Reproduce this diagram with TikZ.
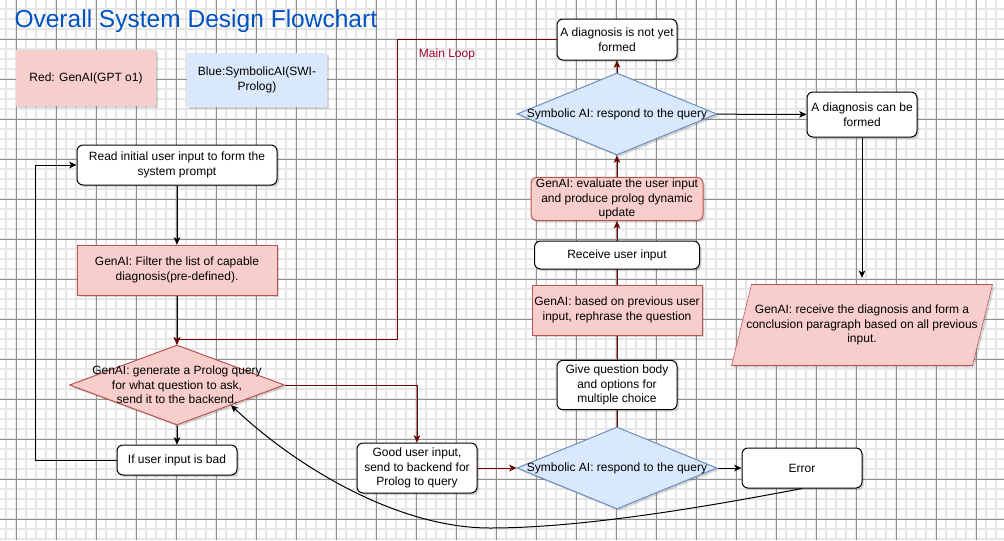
\documentclass[tikz,border=0pt]{standalone}
\usepackage{fontspec}
\setmainfont{Liberation Sans}
\usetikzlibrary{arrows.meta,shapes.geometric,shadows,backgrounds}
\definecolor{redfill}{HTML}{F8CECC}
\definecolor{redline}{HTML}{B85450}
\definecolor{bluefill}{HTML}{DAE8FC}
\definecolor{blueline}{HTML}{6C8EBF}
\definecolor{loopred}{HTML}{6F0000}
\definecolor{looptext}{HTML}{A20025}
\definecolor{titleblue}{HTML}{0052C2}
\definecolor{gridminor}{HTML}{E6E6E6}
\definecolor{gridmajor}{HTML}{909090}

\begin{document}
\begin{tikzpicture}[x=0.75pt,y=-0.75pt,line width=0.75pt,
  font=\fontsize{9}{11}\selectfont,
  boxshadow/.style={drop shadow={shadow xshift=1.5pt,shadow yshift=-1.5pt,opacity=0.22,fill=black!70}},
  whitebox/.style={draw=black,fill=white,rounded corners=4.5pt,align=center,inner sep=1pt,boxshadow},
  genbox/.style={draw=redline,fill=redfill,align=center,inner sep=1pt,boxshadow},
  legend/.style={fill=#1,align=center,inner sep=1pt,minimum width=105pt,boxshadow},
  symdia/.style={diamond,draw=blueline,fill=bluefill,inner sep=0pt,minimum width=150pt,minimum height=61.5pt,boxshadow},
  arr/.style={-{Stealth[length=5.5pt,width=5pt,inset=1.5pt]}},
  looparr/.style={arr,draw=loopred},
  loopline/.style={draw=loopred}]
\useasboundingbox (0,0) rectangle (1004,540);

\begin{scope}[on background layer]
\fill[white] (0,0) rectangle (1004,540);
\foreach \x in {6,16,...,1004} \draw[gridminor,line width=1.1pt] (\x,0)--(\x,540);
\foreach \y in {9,19,...,540} \draw[gridminor,line width=1.1pt] (0,\y)--(1004,\y);
\foreach \x in {16,56,...,1004} \draw[gridmajor] (\x,0)--(\x,540);
\foreach \y in {39,79,...,540} \draw[gridmajor] (0,\y)--(1004,\y);
\end{scope}

\node [anchor=west,inner sep=0pt,text=titleblue,font=\fontsize{18.4}{22}\selectfont] (title) at (14,21) {Overall System Design Flowchart};
\node [legend=redfill,minimum height=42pt] (keyred) at (86,78) {Red: GenAI(GPT o1)};
\node [legend=bluefill,minimum height=40.5pt] (keyblue) at (257,80) {Blue:SymbolicAI(SWI-\\Prolog)};
\node [text=looptext,inner sep=0pt] (looplabel) at (447,54) {Main Loop};

% left column
\node [whitebox,minimum width=150pt,minimum height=30pt] (read) at (177,165) {Read initial user input to form the\\system prompt};
\node [genbox,minimum width=150pt,minimum height=37.5pt] (filter) at (177,270) {GenAI: Filter the list of capable\\diagnosis(pre-defined).};
\node [diamond,draw=redline,fill=redfill,inner sep=0pt,minimum width=161.25pt,minimum height=60pt,boxshadow] (gen) at (177,385) {};
\node [align=center,inner sep=0pt] (gentext) at (gen) {GenAI: generate a Prolog query\\for what question to ask,\\send it to the backend.};
\node [whitebox,minimum width=90pt,minimum height=22.5pt] (bad) at (177,460) {If user input is bad};

% bottom row
\node [whitebox,minimum width=90pt,minimum height=37.5pt] (good) at (417,468) {Good user input,\\send to backend for\\Prolog to query};
\node [symdia] (sym2) at (617,468) {};
\node [inner sep=0pt] (sym2text) at (sym2) {Symbolic AI: respond to the query};
\node [whitebox,minimum width=90pt,minimum height=30pt] (err) at (802,468) {Error};

% middle column
\node [whitebox,minimum width=90pt,minimum height=37pt] (give) at (617,385) {Give question body\\and options for\\multiple choice};
\node [genbox,minimum width=127.5pt,minimum height=37.5pt] (rephrase) at (617,310) {GenAI: based on previous user\\input, rephrase the question};
\node [genbox,rounded corners=4.5pt,minimum width=129pt,minimum height=30pt] (evaluate) at (617,199) {GenAI: evaluate the user input\\and produce prolog dynamic\\update};
\draw [looparr] (rephrase)--(evaluate);
\node [whitebox,minimum width=123.75pt,minimum height=21pt] (receive) at (617,255) {Receive user input};
\node [symdia] (sym1) at (617,114) {};
\node [inner sep=0pt] (sym1text) at (sym1) {Symbolic AI: respond to the query};
\node [whitebox,minimum width=90pt,minimum height=30.75pt] (notyet) at (617,39.5) {A diagnosis is not yet\\formed};

% right column
\node [whitebox,minimum width=82.5pt,minimum height=33.75pt] (formed) at (862,114.5) {A diagnosis can be\\formed};
\node [align=center,inner sep=0pt,minimum width=180pt,minimum height=60pt] (concl) at (862,325) {GenAI: receive the diagnosis and form a\\conclusion paragraph based on all previous\\input.};
\begin{scope}[on background layer]
\draw [draw=redline,fill=redfill,boxshadow] ([xshift=7.5pt]concl.north west)--([xshift=7.5pt]concl.north east)--([xshift=-7.5pt]concl.south east)--([xshift=-7.5pt]concl.south west)--cycle;
\end{scope}

% connectors
\draw [arr] (read)--(filter);
\draw [arr] (filter)--(gen);
\draw [arr] (gen)--(bad);
\draw [arr] (bad.west)-|([xshift=-30.75pt]read.west)--(read.west);
\draw [looparr] (gen.east)-|(good.north);
\draw [looparr] (good)--(sym2);
\draw [arr] (sym2)--(err);
\draw [loopline] (sym2)--(give);
\draw [loopline] (give)--(rephrase);
\draw [looparr] (evaluate)--(sym1);
\draw [looparr] (sym1)--(notyet);
\draw [arr] (sym1)--(formed);
\draw [arr,shorten >=5pt] (formed)--(concl);
\draw [looparr] (notyet.west)-|(397,339)-|(gen.north);
\draw [arr] (err.south) .. controls (700,508) and (580,528) .. (490,528) .. controls (400,528) and (300,470) .. (gen.south east);

\end{tikzpicture}
\end{document}
